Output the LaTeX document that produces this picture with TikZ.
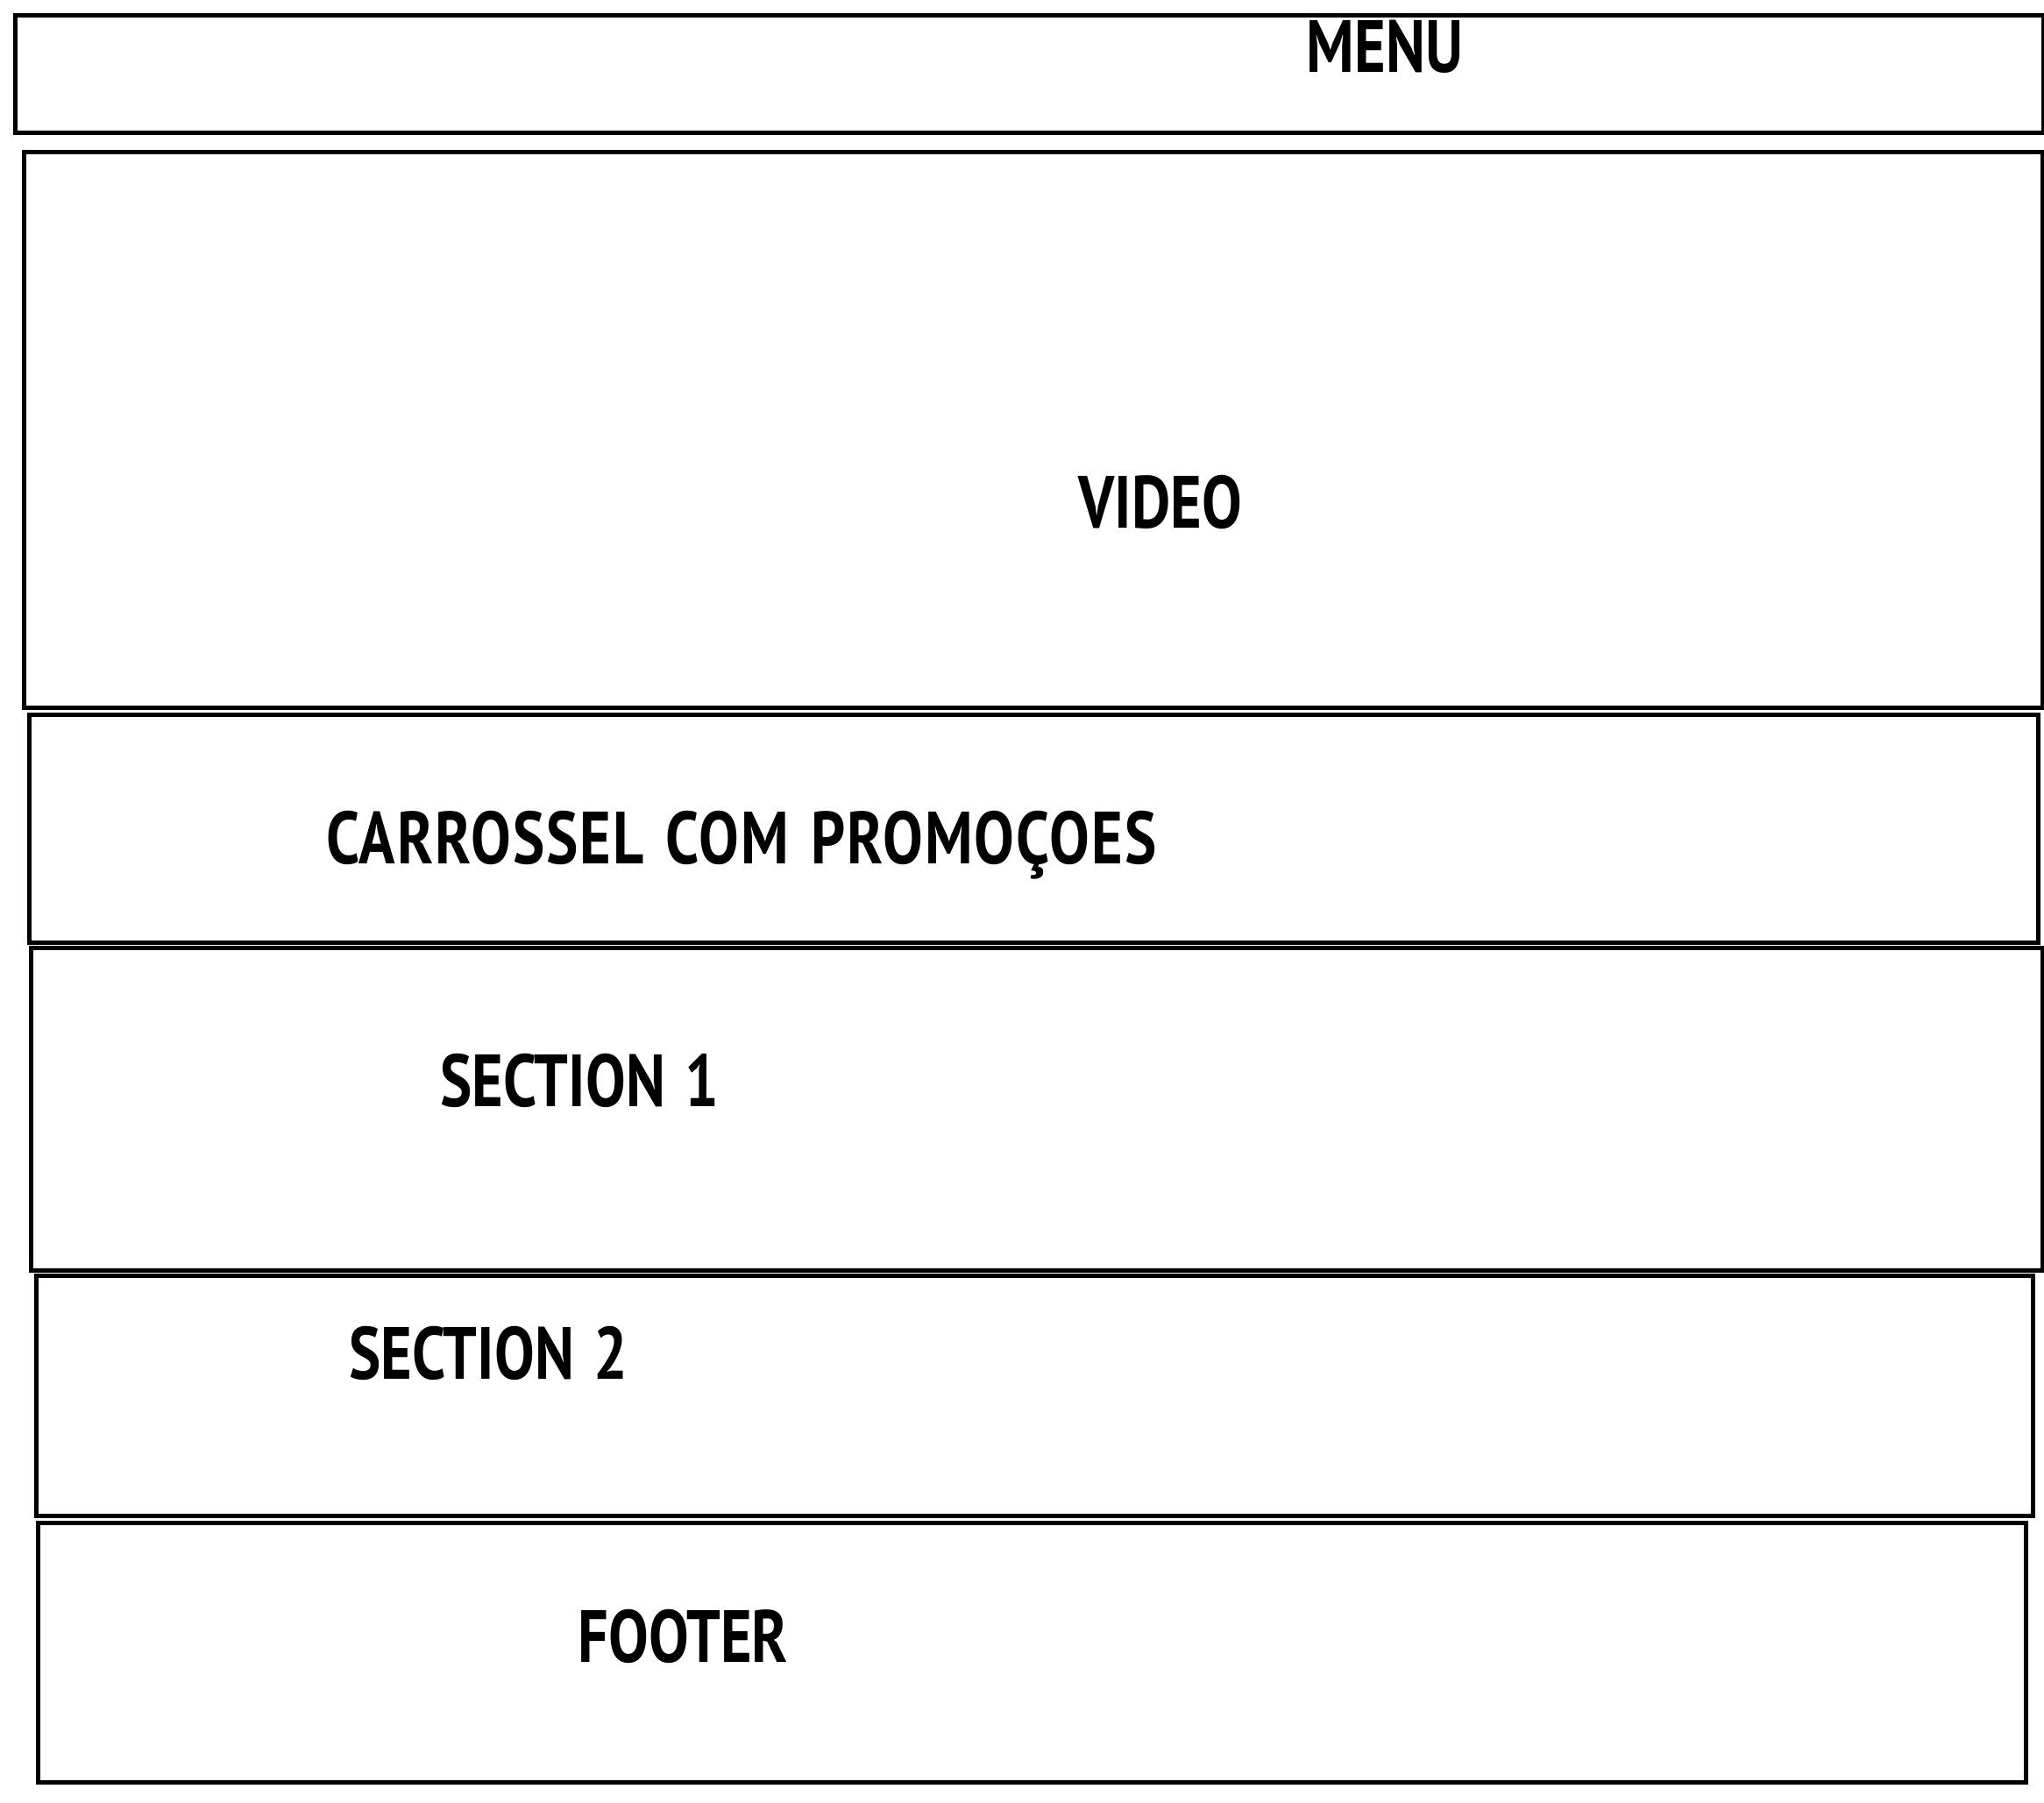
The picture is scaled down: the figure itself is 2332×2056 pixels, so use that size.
\documentclass[tikz,border=0pt]{standalone}
\usepackage{fontspec}
\usepackage{tikz}
\usetikzlibrary{positioning}
\newfontfamily\wirefont[FakeStretch=0.81,WordSpace=1.3]{PT Sans}
\newfontfamily\wirefontlargo[FakeStretch=0.81,WordSpace=1.3,LetterSpace=2.4]{PT Sans}
\tikzset{
  bloco/.style={draw=black, line width=0.05cm},
  rotulo/.style={anchor=base west, inner sep=0pt, font=\wirefont\bfseries\fontsize{24}{28}\selectfont},
  rotulolargo/.style={rotulo, font=\wirefontlargo\bfseries\fontsize{24}{28}\selectfont}
}

\begin{document}
\begin{tikzpicture}[x=0.01cm, y=-0.01cm]
\useasboundingbox (0,0) rectangle (2332,2056);
\draw[bloco] (17.5,17.5) rectangle (2331,151.5);
\draw[bloco] (27.5,173.5) rectangle (2330,807.5);
\draw[bloco] (33.5,815.7) rectangle (2325,1075.5);
\draw[bloco] (35.5,1081.5) rectangle (2330,1449.5);
\draw[bloco] (41.5,1455.7) rectangle (2319.5,1729.5);
\draw[bloco] (43.5,1737.5) rectangle (2311.5,2033.5);
\node[rotulo] (menu) at (1490,82) {MENU};
\node[rotulo] (video) at (1230,602) {VIDEO};
\node[rotulolargo] (carrossel) at (372,985) {CARROSSEL COM PROMOÇOES};
\node[rotulo] (secao1) at (502,1262) {SECTION 1};
\node[rotulo] (secao2) at (398,1573) {SECTION 2};
\node[rotulo] (rodape) at (659,1896) {FOOTER};
\end{tikzpicture}
\end{document}
